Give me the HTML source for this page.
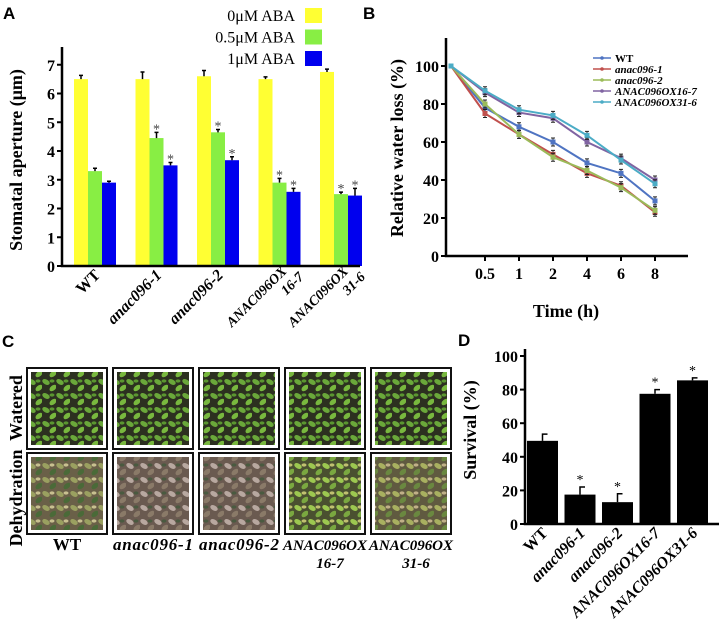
<!DOCTYPE html>
<html><head><meta charset="utf-8"><style>
html,body{margin:0;padding:0;background:#fff;}
svg{display:block;font-family:"Liberation Serif",serif;}
.pl{font-family:"Liberation Sans",sans-serif;font-weight:bold;font-size:17px;}
.tk{font-weight:bold;font-size:16px;}
.ttl{font-weight:bold;font-size:18px;}
</style></head><body>
<svg id="fig" width="719" height="642" viewBox="0 0 719 642" xmlns="http://www.w3.org/2000/svg">
<defs>
<pattern id="wat" width="14" height="14" patternUnits="userSpaceOnUse">
<rect width="14" height="14" fill="#2c3020"/>
<ellipse cx="4" cy="4" rx="4" ry="2.5" fill="#6aa83a" transform="rotate(30 4 4)"/>
<ellipse cx="11" cy="10" rx="4" ry="2.5" fill="#78b83e" transform="rotate(-40 11 10)"/>
<ellipse cx="10" cy="3" rx="2.5" ry="1.6" fill="#5a9630"/>
</pattern>
<pattern id="dryA" width="14" height="14" patternUnits="userSpaceOnUse">
<rect width="14" height="14" fill="#6a6048"/>
<ellipse cx="4" cy="4" rx="4" ry="2.5" fill="#9aa060" transform="rotate(30 4 4)"/>
<ellipse cx="11" cy="10" rx="4" ry="2.5" fill="#4a6a38" transform="rotate(-40 11 10)"/>
<ellipse cx="10" cy="3" rx="2.5" ry="1.6" fill="#c8c090"/>
</pattern>
<pattern id="dryB" width="14" height="14" patternUnits="userSpaceOnUse">
<rect width="14" height="14" fill="#6a5a50"/>
<ellipse cx="4" cy="4" rx="4" ry="2.5" fill="#b8a8a0" transform="rotate(30 4 4)"/>
<ellipse cx="11" cy="10" rx="4" ry="2.5" fill="#8a7a68" transform="rotate(-40 11 10)"/>
<ellipse cx="10" cy="3" rx="2.5" ry="1.6" fill="#4a5a40"/>
</pattern>
<pattern id="dryG" width="14" height="14" patternUnits="userSpaceOnUse">
<rect width="14" height="14" fill="#4a5030"/>
<ellipse cx="4" cy="4" rx="4" ry="2.5" fill="#9cc850" transform="rotate(30 4 4)"/>
<ellipse cx="11" cy="10" rx="4" ry="2.5" fill="#7aa840" transform="rotate(-40 11 10)"/>
<ellipse cx="10" cy="3" rx="2.5" ry="1.6" fill="#c0c070"/>
</pattern>
<pattern id="dryC" width="14" height="14" patternUnits="userSpaceOnUse">
<rect width="14" height="14" fill="#605a40"/>
<ellipse cx="4" cy="4" rx="4" ry="2.5" fill="#a8b060" transform="rotate(30 4 4)"/>
<ellipse cx="11" cy="10" rx="4" ry="2.5" fill="#6a8840" transform="rotate(-40 11 10)"/>
<ellipse cx="10" cy="3" rx="2.5" ry="1.6" fill="#c0b088"/>
</pattern>
</defs>
<text class="pl" x="3" y="19">A</text>
<text class="pl" x="363" y="19">B</text>
<text class="pl" x="2" y="347">C</text>
<text class="pl" x="458" y="346">D</text>
<g id="gA"></g><g id="gB"></g><g id="gC"></g><g id="gD"></g>
</svg>
<script>
const NS="http://www.w3.org/2000/svg";
function mk(p,t,a,txt){const e=document.createElementNS(NS,t);for(const k in a)e.setAttribute(k,a[k]);if(txt!==undefined)e.textContent=txt;p.appendChild(e);return e;}

// ---- Panel A data ----
const aGroups=["WT","anac096-1","anac096-2","ANAC096OX|16-7","ANAC096OX|31-6"];
const aSeries=["0μM ABA","0.5μM ABA","1μM ABA"];
const a0=[6.5,6.5,6.6,6.5,6.75];
const a05=[3.3,4.45,4.65,2.9,2.5];
const a1=[2.9,3.5,3.68,2.58,2.45];
const a0err=[0.13,0.25,0.2,0.08,0.1];
const a05err=[0.1,0.2,0.1,0.15,0.07];
const a1err=[0.05,0.1,0.12,0.12,0.25];
const aStar0=[false,false,false,false,false];
const aStar05=[false,true,true,true,true];
const aStar1=[false,true,true,true,true];
const aTicks=[0,1,2,3,4,5,6,7];

// ---- Panel B data ----
const bTimes=["0","0.5","1","2","4","6","8"];
const bNames=["WT","anac096-1","anac096-2","ANAC096OX16-7","ANAC096OX31-6"];
const bWT=[100,78,68,60,49,43.5,29];
const bM1=[100,75,64,53.5,43.5,37,23];
const bM2=[100,80,64,52,45,36,24];
const bOX16=[100,86,75.5,72.5,60,51.5,40];
const bOX31=[100,87,77,74,63.5,50.5,38];
const bTicks=[0,20,40,60,80,100];

// ---- Panel D data ----
const dCats=["WT","anac096-1","anac096-2","ANAC096OX16-7","ANAC096OX31-6"];
const dVals=[49.5,17.5,13,77.5,85.5];
const dErr=[4,4.5,5,2.5,1.5];
const dStar=[false,true,true,true,true];
const dTicks=[0,20,40,60,80,100];

// ===== Panel A =====
(function(){
const g=document.getElementById('gA');
const y0=266,ppu=28.75,xL=62,gx0=74,gstep=61.5,bw=14;
const ys=v=>y0-v*ppu;
const cols=["#ffff33","#88ee44","#0000ee"];
const vals=[a0,a05,a1],errs=[a0err,a05err,a1err],stars=[aStar0,aStar05,aStar1];
aGroups.forEach((gname,i)=>{
 for(let s=0;s<3;s++){
  const x=gx0+i*gstep+s*bw, v=vals[s][i];
  const r=mk(g,'rect',{x:x,y:ys(v),width:bw,height:y0-ys(v),fill:cols[s]});
  
  
  const e=mk(g,'path',{d:`M${x+bw/2} ${ys(v)}V${ys(v+errs[s][i])}M${x+bw/2-2} ${ys(v+errs[s][i])}H${x+bw/2+2}`,stroke:'#000','stroke-width':1.5,fill:'none'});
  
  
  if(stars[s][i]){const t=mk(g,'text',{x:x+bw/2,y:ys(v+errs[s][i])+1,'text-anchor':'middle','font-size':14,fill:'#444'},'*');
   
   }
 }
 const cx=gx0+i*gstep+bw*1.5, parts=gname.split('|');
 const lab=mk(g,'text',{transform:`translate(${cx+6},${276}) rotate(-45)`,'text-anchor':'end','font-size':16,'font-weight':'bold','font-style':i==0?'normal':'italic'});
 
 
 if(parts.length==1){lab.textContent=parts[0];}
 else{mk(lab,'tspan',{x:0,y:0,'font-size':14},parts[0]);mk(lab,'tspan',{x:8,y:16,'font-size':14},parts[1]);lab.setAttribute('transform',`translate(${cx+8},${272}) rotate(-45)`);}
});
mk(g,'path',{d:`M${xL} 47V${y0}H360`,stroke:'#000','stroke-width':2.5,fill:'none'});
aTicks.forEach(t=>{mk(g,'line',{x1:xL-5,x2:xL,y1:ys(t),y2:ys(t),stroke:'#000','stroke-width':2});
 const tt=mk(g,'text',{x:xL-7,y:ys(t)+6,'text-anchor':'end',class:'tk'},String(t));
 
 });
const yt=mk(g,'text',{transform:'translate(22,160) rotate(-90)','text-anchor':'middle',class:'ttl'},'Stomatal aperture (μm)');


aSeries.forEach((s,k)=>{
 const r=mk(g,'rect',{x:305,y:8+k*21.5,width:17,height:15,fill:cols[k]});
 
 
 const t=mk(g,'text',{x:295,y:21+k*21.5,'text-anchor':'end','font-size':16},s);
 
 
});
})();

// ===== Panel B =====
(function(){
const g=document.getElementById('gB');
const y0=256,ppu=1.9,xL=446,x0=451,step=34;
const ys=v=>y0-v*ppu, xs=i=>x0+i*step;
const series=[bWT,bM1,bM2,bOX16,bOX31];
const cols=["#4f74c2","#c0504d","#9bbb59","#8064a2","#4bacc6"];
series.forEach((d,k)=>{
 const p=mk(g,'polyline',{points:d.map((v,i)=>xs(i)+','+ys(v)).join(' '),fill:'none',stroke:cols[k],'stroke-width':2});
 
 
 d.forEach((v,i)=>{
  if(i>0){mk(g,'path',{d:`M${xs(i)} ${ys(v)-4}V${ys(v)+4}M${xs(i)-2} ${ys(v)-4}H${xs(i)+2}M${xs(i)-2} ${ys(v)+4}H${xs(i)+2}`,stroke:'#222','stroke-width':1});}
  const m=mk(g,'rect',{x:xs(i)-2.5,y:ys(v)-2.5,width:5,height:5,fill:cols[k]});
  
  
 });
 const ly=58+k*11;
 mk(g,'line',{x1:593,x2:611,y1:ly,y2:ly,stroke:cols[k],'stroke-width':1.5});
 mk(g,'circle',{cx:602,cy:ly,r:1.8,fill:cols[k]});
 const t=mk(g,'text',{x:615,y:ly+4,'font-size':11,'font-weight':'bold','font-style':k==0?'normal':'italic'},bNames[k]);
 
 
});
mk(g,'path',{d:`M${xL} 38V${y0}H688`,stroke:'#000','stroke-width':2.5,fill:'none'});
bTicks.forEach(t=>{mk(g,'line',{x1:xL-5,x2:xL,y1:ys(t),y2:ys(t),stroke:'#000','stroke-width':2});
 const tt=mk(g,'text',{x:xL-7,y:ys(t)+6,'text-anchor':'end',class:'tk','font-size':17},String(t));
 
 });
bTimes.forEach((t,i)=>{if(i==0)return;
 mk(g,'line',{x1:xs(i),x2:xs(i),y1:y0,y2:y0+5,stroke:'#000','stroke-width':2});
 const tt=mk(g,'text',{x:xs(i),y:y0+23,'text-anchor':'middle',class:'tk','font-size':17},t);
 
 });
const yt=mk(g,'text',{transform:'translate(403,148) rotate(-90)','text-anchor':'middle',class:'ttl'},'Relative water loss (%)');


const xt=mk(g,'text',{x:566,y:317,'text-anchor':'middle',class:'ttl'},'Time (h)');


})();

// ===== Panel C =====
(function(){
const g=document.getElementById('gC');
const xs=[27,113,199,285,371];
const dry=['dryA','dryB','dryB','dryG','dryC'];
const names=["WT","anac096-1","anac096-2","ANAC096OX|16-7","ANAC096OX|31-6"];
xs.forEach((x,i)=>{
 [[368,'wat','watered'],[453,dry[i],'dehydration']].forEach(([y,p,n])=>{
  mk(g,'rect',{x:x,y:y,width:80,height:81,fill:'#fff',stroke:'#111','stroke-width':2});
  const r=mk(g,'rect',{x:x+4,y:y+4,width:72,height:73,fill:'url(#'+p+')'});
  
  
 });
 const parts=names[i].split('|');
 const t=mk(g,'text',{x:x+40,y:550,'text-anchor':'middle','font-size':parts.length>1?15:17,'font-weight':'bold','font-style':i==0?'normal':'italic',textLength:parts.length>1?84:(i==0?0:80)},parts[0]);
 if(i==0)t.removeAttribute('textLength');
 
 
 if(parts.length>1)mk(g,'text',{x:x+45,y:568,'text-anchor':'middle','font-size':15,'font-weight':'bold','font-style':'italic'},parts[1]);
});
const w=mk(g,'text',{transform:'translate(22,408) rotate(-90)','text-anchor':'middle',class:'ttl','font-size':20},'Watered');


const d=mk(g,'text',{transform:'translate(22,498) rotate(-90)','text-anchor':'middle',class:'ttl','font-size':20},'Dehydration');


})();

// ===== Panel D =====
(function(){
const g=document.getElementById('gD');
const y0=524,ppu=1.68,xL=525,x0=527,step=37.5,bw=31;
const ys=v=>y0-v*ppu;
dCats.forEach((c,i)=>{
 const x=x0+i*step,v=dVals[i];
 const r=mk(g,'rect',{x:x,y:ys(v),width:bw,height:y0-ys(v),fill:'#000'});
 
 
 mk(g,'path',{d:`M${x+bw/2} ${ys(v)}V${ys(v+dErr[i])}H${x+bw/2+5}`,stroke:'#000','stroke-width':1.5,fill:'none'});
 if(dStar[i]){const s=mk(g,'text',{x:x+bw/2,y:ys(v+dErr[i])-3,'text-anchor':'middle','font-size':14},'*');
  
  }
 const t=mk(g,'text',{transform:`translate(${x+bw/2+6},${534}) rotate(-45)`,'text-anchor':'end','font-size':16,'font-weight':'bold','font-style':i==0?'normal':'italic'},c);
 
 
});
mk(g,'path',{d:`M${xL} 349V${y0}H719`,stroke:'#000','stroke-width':2.5,fill:'none'});
dTicks.forEach(t=>{mk(g,'line',{x1:xL-5,x2:xL,y1:ys(t),y2:ys(t),stroke:'#000','stroke-width':2});
 const tt=mk(g,'text',{x:xL-7,y:ys(t)+6,'text-anchor':'end',class:'tk','font-size':17},String(t));
 
 });
const yt=mk(g,'text',{transform:'translate(476,430) rotate(-90)','text-anchor':'middle',class:'ttl'},'Survival (%)');


})();
</script>
</body></html>
